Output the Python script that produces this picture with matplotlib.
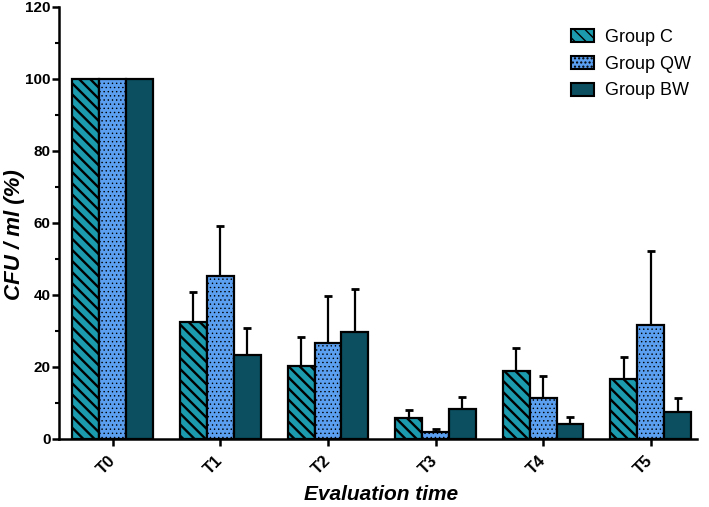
import matplotlib
matplotlib.use("Agg")
import matplotlib.pyplot as plt
import matplotlib.transforms as mtransforms
from matplotlib.patches import Patch
import numpy as np

categories = ["T0", "T1", "T2", "T3", "T4", "T5"]
groups = ["Group C", "Group QW", "Group BW"]
group_c = [100, 32.5, 20.3, 5.8, 19.0, 16.7]
group_c_err = [0, 8.4, 8.0, 2.3, 6.3, 6.1]
group_qw = [100, 45.2, 26.7, 1.9, 11.4, 31.8]
group_qw_err = [0, 14.1, 13.0, 0.9, 6.2, 20.5]
group_bw = [100, 23.3, 29.7, 8.3, 4.2, 7.5]
group_bw_err = [0, 7.5, 12.0, 3.4, 1.9, 3.9]
y_ticks = [0, 20, 40, 60, 80, 100, 120]

plt.rcParams['font.family'] = ['Liberation Sans', 'DejaVu Sans']

fig = plt.figure(figsize=(7.09, 5.07), dpi=100)
ax = fig.add_axes([59 / 709, 68 / 507, 638 / 709, 432 / 507])

x = np.arange(len(categories))
w = 0.25
colors = ["#1b9bad", "#5ba0f0", "#0b4f60"]
hatches = ["\\\\\\", "....", None]
hatch_lws = [1.7, 0.5, 1.0]
vals = [group_c, group_qw, group_bw]
errs = [group_c_err, group_qw_err, group_bw_err]

for i, (v, e) in enumerate(zip(vals, errs)):
    xs = x + (i - 1) * w
    with plt.rc_context({'hatch.linewidth': hatch_lws[i]}):
        ax.bar(xs, v, width=w, color=colors[i], edgecolor="black", linewidth=1.6,
               hatch=hatches[i], zorder=2)
    e_plot = np.array(e, dtype=float)
    mask = e_plot > 0
    ax.errorbar(xs[mask], np.array(v)[mask], yerr=[np.zeros(mask.sum()), e_plot[mask]],
                fmt="none", ecolor="black", elinewidth=1.6, capsize=2.6, capthick=2.0,
                zorder=1)

ax.set_xlim(-0.5, 5.43)
ax.set_ylim(0, 120)
ax.set_yticks(y_ticks)
ax.set_yticks(np.arange(10, 120, 20), minor=True)
ax.set_xticks(x)
ax.set_xticklabels(categories, rotation=45, ha="right", va="center",
                   rotation_mode="anchor", fontweight="bold", fontsize=12)
offset = mtransforms.ScaledTranslation(0.05, 0, fig.dpi_scale_trans)
for tick in ax.xaxis.get_major_ticks():
    tick.label1.set_transform(tick.label1.get_transform() + offset)
for lab in ax.get_yticklabels():
    lab.set_fontweight("bold")
    lab.set_fontsize(11)

ax.spines["top"].set_visible(False)
ax.spines["right"].set_visible(False)
ax.spines["left"].set_linewidth(1.8)
ax.spines["bottom"].set_linewidth(1.8)
ax.tick_params(axis="y", which="major", direction="out", width=1.8, length=5, pad=1)
ax.tick_params(axis="x", which="major", direction="out", width=1.8, length=5, pad=9)
ax.tick_params(axis="y", which="minor", direction="out", width=1.5, length=3)

ax.set_ylabel("CFU / ml (%)", fontsize=16, fontweight="bold", fontstyle="italic")
ax.set_xlabel("Evaluation time", fontsize=15, fontweight="bold", fontstyle="italic")
ax.yaxis.set_label_coords(-0.054, 0.472)
ax.xaxis.set_label_coords(0.505, -0.107)

handles = []
for i in range(3):
    with plt.rc_context({'hatch.linewidth': hatch_lws[i]}):
        handles.append(Patch(facecolor=colors[i], edgecolor="black", linewidth=1.5,
                             hatch=hatches[i], label=groups[i]))
ax.legend(handles=handles, loc="upper left", frameon=False, fontsize=13,
          bbox_to_anchor=(0.8025, 0.95), borderpad=0, borderaxespad=0,
          handlelength=1.25, handleheight=0.75, handletextpad=0.65, labelspacing=0.55)

fig.savefig("out.png", dpi=100)
